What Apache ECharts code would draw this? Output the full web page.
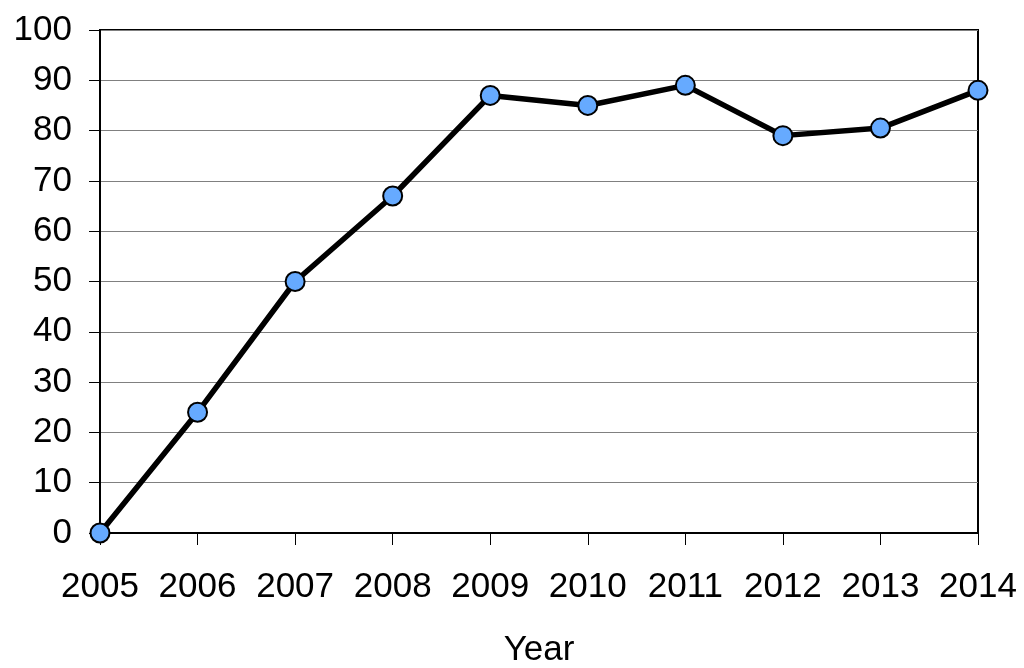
<!DOCTYPE html>
<html>
<head>
<meta charset="utf-8">
<script src="https://cdn.jsdelivr.net/npm/echarts@6/dist/echarts.min.js"></script>
<style>
html, body { margin: 0; padding: 0; background: #fff; }
#chart { width: 1024px; height: 668px; }
</style>
</head>
<body>
<div id="chart"></div>
<script>
const years = ['2005', '2006', '2007', '2008', '2009', '2010', '2011', '2012', '2013', '2014'];
const values = [0, 24, 50, 67, 87, 85, 89, 79, 80.5, 88];

const font = 'Liberation Sans, Arial, sans-serif';
const myChart = echarts.init(document.getElementById('chart'));
myChart.setOption({
    animation: false,
    grid: {
        left: 100,
        right: 46,
        top: 30,
        bottom: 135,
        containLabel: false,
        outerBoundsMode: 'none',
        show: true,
        borderColor: '#000',
        borderWidth: 2,
    },
    xAxis: {
        type: 'category',
        data: years,
        boundaryGap: false,
        name: 'Year',
        nameLocation: 'middle',
        nameGap: 100,
        nameTextStyle: { fontSize: 35, color: '#000', fontFamily: font },
        axisLine: { lineStyle: { color: '#000', width: 2 } },
        axisTick: { alignWithLabel: true, length: 12, lineStyle: { color: '#000', width: 1 } },
        axisLabel: { fontSize: 35, color: '#000', fontFamily: font, margin: 37, interval: 0 },
        splitLine: { show: false },
    },
    yAxis: {
        type: 'value',
        min: 0,
        max: 100,
        interval: 10,
        axisLine: { show: true, lineStyle: { color: '#000', width: 2 } },
        axisTick: { show: true, length: 11, lineStyle: { color: '#000', width: 1 } },
        axisLabel: { fontSize: 35, color: '#000', fontFamily: font, margin: 28 },
        splitLine: { lineStyle: { color: '#808080', width: 1 } },
    },
    series: [
        {
            type: 'line',
            data: values,
            symbol: 'circle',
            symbolSize: 19,
            lineStyle: { color: '#000', width: 5.5 },
            itemStyle: { color: '#66aaff', borderColor: '#000', borderWidth: 2 },
            z: 5,
        }
    ]
});
</script>
</body>
</html>
